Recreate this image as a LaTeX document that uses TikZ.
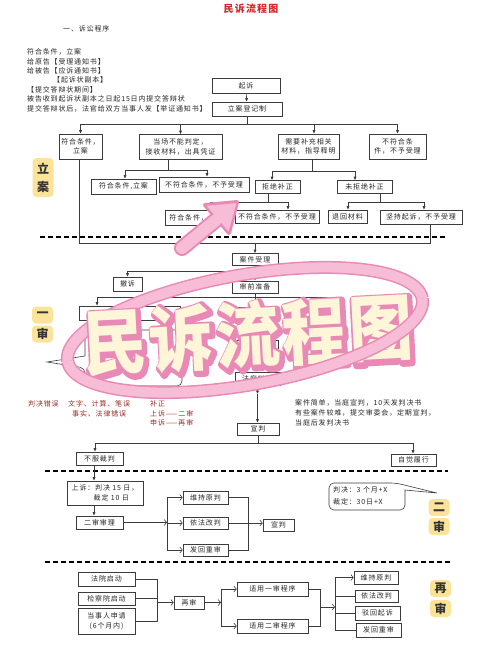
\documentclass[tikz,border=0pt]{standalone}
\usepackage{fontspec}
\newfontfamily\cjk{Noto Sans CJK SC}[LetterSpace=12]
\newfontfamily\cjkbig{Noto Sans CJK SC}[LetterSpace=4]
\usetikzlibrary{arrows.meta}
\definecolor{lc}{HTML}{3C3C3C}
\definecolor{pinkd}{HTML}{E98AB6}
\definecolor{pinkl}{HTML}{F7BCD6}
\definecolor{cream}{HTML}{FFF5D8}
\definecolor{yel}{HTML}{FBE49A}
\definecolor{dred}{HTML}{9E2B25}
\definecolor{tred}{HTML}{D42A2A}
\newcommand\bx[5]{\node[box, minimum width=#3pt, minimum height=#4pt] (#1) at (#2) {#5};}
\newcommand\bigtext{\scalebox{1}[1.12]{\cjkbig\bfseries\fontsize{64}{64}\selectfont 民诉流程图}}
\newcommand\outl[1]{\special{pdf:literal direct 2 Tr #1 w 1 j 1 J}}
\newcommand\resettr{\special{pdf:literal direct 0 Tr}}
\newcommand\stickertext{\rlap{\hspace*{1.5pt}\raisebox{-2pt}{\color{pinkd}\outl{7}\bigtext\resettr}}{\color{cream}\bigtext}}
\newcommand\ringplot[2]{plot[domain=#1:#2, samples=60, variable=\t] ({245+177.3*cos(\t)+9.57*sin(\t)}, {330-31.3*cos(\t)+54.2*sin(\t)})}
\begin{document}
\begin{tikzpicture}[x=1pt,y=-1pt,
  box/.style={draw=lc, line width=0.6pt, fill=white, inner sep=0pt, align=center, font=\cjk\fontsize{7}{9.5}\selectfont, text=black!85},
  lnk/.style={draw=lc, line width=0.6pt},
  arr/.style={lnk, -{Latex[length=3.5pt,width=3.2pt]}},
  oarr/.style={lnk, -{Straight Barb[length=2.5pt,width=6pt]}},
  divider/.style={black, line width=1.2pt, dash pattern=on 5pt off 3pt},
  txt/.style={font=\cjk\fontsize{7}{9}\selectfont, anchor=west, inner sep=0pt, text=black!85},
  lab/.style={fill=yel, rounded corners=4pt, minimum width=21pt, minimum height=17pt, inner sep=0pt, align=center, font=\cjk\bfseries\fontsize{12}{18}\selectfont, text=black!80},
]
\fill[white] (0,0) rectangle (500,667);
\useasboundingbox (0,0) rectangle (500,667);

% ---------- title and notes ----------
\node[font=\cjk\bfseries\fontsize{10}{10}\selectfont, text=tred] (title) at (251,9) {民诉流程图};
\node[txt] (sub) at (63,29) {一、诉讼程序};
\node[txt] (t1) at (27,52) {符合条件，立案};
\node[txt] (t2) at (27,62) {给原告【受理通知书】};
\node[txt] (t3) at (27,71) {给被告【应诉通知书】};
\node[txt] (t4) at (53,80) {【起诉状副本】};
\node[txt] (t5) at (27,90) {【提交答辩状期间】};
\node[txt] (t6) at (27,99) {被告收到起诉状副本之日起15日内提交答辩状};
\node[txt] (t7) at (27,109) {提交答辩状后，法官给双方当事人发【举证通知书】};

% ---------- 立案 ----------
\bx{qisu}{246,85.5}{68}{15}{起诉}
\bx{djz}{247,109}{70}{14}{立案登记制}
\bx{r1a}{80.5,146.5}{43}{25}{符合条件，\\立案}
\bx{r1b}{180.5,147}{83}{25}{当场不能判定，\\接收材料，出具凭证}
\bx{r1c}{308.5,146.5}{61}{25}{需要补充相关\\材料，指导释明}
\bx{r1d}{397.5,146.5}{57}{25}{不符合条\\件，不予受理}
\bx{r2a}{123.5,186.5}{65}{15}{符合条件,立案}
\bx{r2b}{204,184.5}{90}{15}{不符合条件，不予受理}
\bx{r2c}{277.5,187}{45}{13}{拒绝补正}
\bx{r2d}{364.5,187}{55}{13}{未拒绝补正}
\bx{r3a}{196.5,218}{63}{15}{符合条件，立案}
\bx{r3b}{277,216.5}{84}{13}{不符合条件，不予受理}
\bx{r3c}{347.5,216.5}{39}{13}{退回材料}
\bx{r3d}{421,217}{82}{14}{坚持起诉，不予受理}

\draw[arr] (qisu) -- (djz);
\coordinate (b1) at (247,124);
\draw[lnk] (djz.south) -- (b1);
\draw[lnk] (r1a.north |- b1) -- (r1d.north |- b1);
\foreach \n in {r1a,r1b,r1d} \draw[arr] (\n.north |- b1) -- (\n.north);
\coordinate (b1c) at (314,124);
\draw[arr] (b1c) -- (b1c |- r1c.north);

\coordinate (k1) at (125,170); \coordinate (k2) at (207,170); \coordinate (k0) at (168,170);
\draw[lnk] (k0 |- r1b.south) -- (k0);
\draw[lnk] (k1) -- (k2);
\draw[arr] (k1) -- (k1 |- r2a.north);
\draw[arr] (k2) -- (k2 |- r2b.north);

\coordinate (k3) at (272,171); \coordinate (k4) at (355,171); \coordinate (k5) at (312,171);
\draw[lnk] (k5 |- r1c.south) -- (k5);
\draw[lnk] (k3) -- (k4);
\draw[arr] (k3) -- (k3 |- r2c.north);
\draw[arr] (k4) -- (k4 |- r2d.north);

\coordinate (k6) at (210,202); \coordinate (k7) at (288,202); \coordinate (k8) at (268,202);
\draw[lnk] (k8 |- r2c.south) -- (k8);
\draw[lnk] (k6) -- (k7);
\draw[arr] (k6) -- (k6 |- r3a.north);
\draw[arr] (k7) -- (k7 |- r3b.north);

\coordinate (k9) at (348,202); \coordinate (k10) at (424,202); \coordinate (k11) at (380,202);
\draw[lnk] (k11 |- r2d.south) -- (k11);
\draw[lnk] (k9) -- (k10);
\draw[arr] (k9) -- (k9 |- r3c.north);
\draw[arr] (k10) -- (k10 |- r3d.north);

\node[lab, minimum height=39pt] (la) at (43,177.5) {立\\案};

\draw[divider] (40,237) -- (445,237);

% ---------- 一审 ----------
\bx{ajsl}{255,259.5}{46}{12}{案件受理}
\bx{sqzb}{255,287}{46}{12}{审前准备}
\bx{chesu}{127.5,284}{29}{14}{撤诉}
\bx{y1}{129.5,313}{101}{14}{}
\bx{kt}{255,313.5}{46}{13}{}
\bx{dc}{255,346}{46}{12}{}
\bx{bl}{257.5,378.5}{45}{13}{法庭辩论}
\bx{xp}{258,429}{42}{12}{宣判}
\bx{bfcp}{99.5,458.5}{47}{13}{不服裁判}
\bx{zjlx}{413.5,460}{45}{12}{自觉履行}

\coordinate (c1) at (79,243); \coordinate (c2) at (430,243);
\draw[lnk] (c1 |- r1a.south) -- (c1) -- (c2) -- (c2 |- r3d.south);
\draw[arr] (ajsl.north |- c1) -- (ajsl.north);
\draw[arr] (ajsl) -- (sqzb);
\coordinate (c3) at (254,271);
\draw[arr] (c3) -| (chesu.north);
\coordinate (c4) at (97,297); \coordinate (c5) at (328,297);
\draw[lnk] (sqzb.south) -- (sqzb.south |- c4);
\draw[lnk] (c4) -- (c5);
\draw[arr] (c4) -- (c4 |- y1.north);
\draw[arr] (kt.north |- c4) -- (kt.north);
\coordinate (c6) at (328,345);
\draw[lnk] (c5) -- (c6);
\draw[arr] (kt) -- (dc);
\draw[arr] (dc) -- (bl);
\coordinate (c7) at (257.5,394);
\draw[arr] (bl.south) -- (c7);
\draw[arr] (c7) -- (c7 |- xp.north);

\draw[lnk, fill=white, rounded corners=5pt] (130,330) -- (182,330) -- (182,386) -- (85,386) -- (85,368) [sharp corners] -- (47,362) -- (85,356) [rounded corners=5pt] -- (85,330) -- cycle;

\node[txt, text=dred] (rn1) at (28,404) {判决错误};
\node[txt, text=dred] (rn2) at (68,404) {文字、计算、笔误};
\node[txt, text=dred] (rn3) at (72,413.5) {事实、法律错误};
\node[txt, text=dred] (rn4) at (150,404) {补正};
\node[txt, text=dred] (rn5) at (150,413.5) {上诉——二审};
\node[txt, text=dred] (rn6) at (150,423) {申诉——再审};

\node[txt] (n1) at (295,403) {案件简单，当庭宣判，10天发判决书};
\node[txt] (n2) at (295,413) {有些案件较难，提交审委会，定期宣判，};
\node[txt] (n3) at (295,423) {当庭后发判决书};

\coordinate (c8) at (95,443); \coordinate (c9) at (413,443);
\draw[lnk] (xp.south) -- (xp.south |- c8);
\draw[lnk] (c8) -- (c9);
\draw[arr] (c8) -- (c8 |- bfcp.north);
\draw[arr] (c9) -- (c9 |- zjlx.north);

\node[lab] (ys1) at (42.5,315) {一};
\node[lab] (ys2) at (42.5,334) {审};

\draw[divider] (45,471) -- (448,471);

% ---------- 二审 ----------
\node[box, align=left, minimum width=76pt, minimum height=24pt] (shangsu) at (105,493) {上诉：判决 15 日，\\\hspace*{22pt}裁定 10 日};
\bx{ershen}{99.5,522.5}{47}{13}{二审审理}
\bx{wc1}{205.5,497.5}{45}{13}{维持原判}
\bx{gf1}{205.5,523}{45}{12}{依法改判}
\bx{fh1}{205.5,550}{45}{12}{发回重审}
\bx{xp2}{278.5,525}{31}{12}{宣判}

\coordinate (d0) at (94,0);
\draw[arr] (d0 |- bfcp.south) -- (d0 |- shangsu.north);
\draw[arr] (d0 |- shangsu.south) -- (d0 |- ershen.north);
\coordinate (e1) at (167,522.5);
\draw[oarr] (ershen.east) -- (e1);
\draw[lnk] (e1 |- wc1.west) -- (e1 |- fh1.west);
\foreach \n in {wc1,gf1,fh1} \draw[oarr] (e1 |- \n.west) -- (\n.west);
\coordinate (e2) at (248,523);
\draw[lnk] (wc1.east) -- (e2 |- wc1.east) -- (e2 |- fh1.east) -- (fh1.east);
\draw[lnk] (gf1.east) -- (e2 |- gf1.east);
\draw[oarr] (e2 |- gf1.east) -- (xp2.west |- gf1.east);

\draw[lnk, rounded corners=5pt] (360,483) -- (396,483) [sharp corners] -- (437,493) -- (405,490) [rounded corners=5pt] -- (405,510) -- (329,510) -- (329,483) -- cycle;
\node[txt] (cl1) at (333,490) {判决：3 个月+X};
\node[txt] (cl2) at (333,502) {裁定：30日+X};

\node[lab] (es1) at (439,507.5) {二};
\node[lab] (es2) at (439,526.5) {审};

\draw[divider] (45,562) -- (452,562);

% ---------- 再审 ----------
\bx{fy}{106.5,579}{57}{14}{法院启动}
\bx{jcy}{106.5,598.5}{57}{13}{检察院启动}
\bx{dsr}{106.5,621}{57}{26}{当事人申请\\(6个月内)}
\bx{zs}{189,602.5}{30}{13}{再审}
\bx{sy1}{272.5,589}{71}{14}{适用一审程序}
\bx{sy2}{272.5,626}{71}{14}{适用二审程序}
\bx{wc2}{376,577.5}{44}{13}{维持原判}
\bx{gf2}{376.5,596}{43}{12}{依法改判}
\bx{bh}{377.5,613}{45}{14}{驳回起诉}
\bx{fh2}{378.5,630}{45}{14}{发回重审}

\coordinate (f1) at (157,0);
\draw[lnk] (fy.east) -- (f1 |- fy.east) -- (f1 |- dsr.east) -- (dsr.east);
\draw[lnk] (jcy.east) -- (f1 |- jcy.east);
\draw[oarr] (f1 |- zs.west) -- (zs.west);
\coordinate (f2) at (221,0);
\draw[oarr] (zs.east) -- (f2 |- zs.east);
\draw[lnk] (f2 |- sy1.west) -- (f2 |- sy2.west);
\draw[oarr] (f2 |- sy1.west) -- (sy1.west);
\draw[oarr] (f2 |- sy2.west) -- (sy2.west);
\coordinate (f3) at (320,0); \coordinate (f4) at (335,0); \coordinate (fm) at (0,607);
\draw[lnk] (sy1.east) -- (f3 |- sy1.east) -- (f3 |- sy2.east) -- (sy2.east);
\draw[oarr] (f3 |- fm) -- (f4 |- fm);
\draw[lnk] (f4 |- wc2.west) -- (f4 |- fh2.west);
\draw[oarr] (f4 |- wc2.west) -- (wc2.west);
\foreach \n in {gf2,bh,fh2} \draw[lnk] (f4 |- \n.west) -- (\n.west);

\node[lab] (zs1) at (440.5,588.5) {再};
\node[lab] (zs2) at (440.5,608.5) {审};

% ---------- pink sticker ----------
\draw[pinkd, line width=16pt, line cap=round] (182,248) -- (216,220);
\filldraw[pinkd, line width=4pt, line join=round] (237,202) -- (229,233) -- (205,205) -- cycle;
\draw[pinkl, line width=12pt, line cap=round] (182,248) -- (216,220);
\filldraw[pinkl, line width=0.5pt, line join=round] (236,203.5) -- (228.5,231) -- (207,206) -- cycle;

\draw[pinkd, line width=13pt] \ringplot{180}{360};
\draw[pinkl, line width=10pt] \ringplot{180}{360};

\node[rotate=3, inner sep=0pt] (big) at (248,336) {\stickertext};

\draw[pinkd, line width=13pt] \ringplot{0}{180};
\draw[pinkl, line width=10pt] \ringplot{0}{180};
\end{tikzpicture}
\end{document}
